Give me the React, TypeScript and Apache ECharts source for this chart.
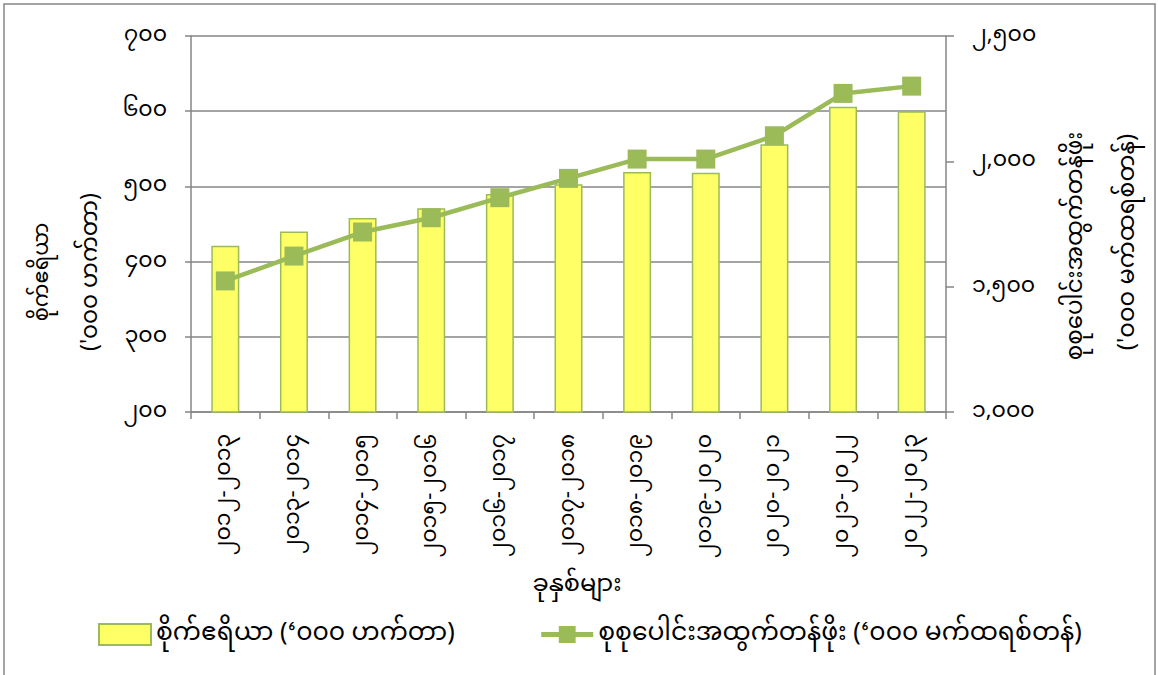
import React, { useEffect, useRef } from "react";
import * as echarts from "echarts";

const categories = [
  "၂၀၁၂-၂၀၁၃",
  "၂၀၁၃-၂၀၁၄",
  "၂၀၁၄-၂၀၁၅",
  "၂၀၁၅-၂၀၁၆",
  "၂၀၁၆-၂၀၁၇",
  "၂၀၁၇-၂၀၁၈",
  "၂၀၁၈-၂၀၁၉",
  "၂၀၁၉-၂၀၂၀",
  "၂၀၂၀-၂၀၂၁",
  "၂၀၂၁-၂၀၂၂",
  "၂၀၂၂-၂၀၂၃",
];
const areaValues = [421, 440, 458, 471, 490, 503, 519, 518, 556, 606, 600];
const productionValues = [1523, 1622, 1718, 1775, 1855, 1932, 2009, 2009, 2102, 2271, 2300];

const areaName = "စိုက်ဧရိယာ (‘၀၀၀ ဟက်တာ)";
const prodName = "စုစုပေါင်းအထွက်တန်ဖိုး (‘၀၀၀ မက်ထရစ်တန်)";
const leftTitle1 = "စိုက်ဧရိယာ";
const leftTitle2 = "('၀၀၀ ဟက်တာ)";
const rightTitle1 = "စုစုပေါင်းအထွက်တန်ဖိုး";
const rightTitle2 = "('၀၀၀ မက်ထရစ်တန်)";
const xTitle = "ခုနှစ်များ";

const myDigits = ["၀", "၁", "၂", "၃", "၄", "၅", "၆", "၇", "၈", "၉"];
const toMy = (n: number, comma: boolean) => {
  let s = String(Math.round(n));
  if (comma) s = s.replace(/\B(?=(\d{3})+(?!\d))/g, ",");
  return s.replace(/\d/g, (d) => myDigits[Number(d)]);
};

const FONT = "'Noto Sans Myanmar', 'Myanmar Text', Padauk, 'Noto Sans', sans-serif";
const GRAY = "#868686";
const GREEN = "#9BBB59";

export default function App() {
  const ref = useRef<HTMLDivElement>(null);
  useEffect(() => {
    if (!ref.current) return;
    const chart = echarts.init(ref.current, undefined, { renderer: "svg" });
    chart.setOption({
      animation: false,
      backgroundColor: "#ffffff",
      textStyle: { fontFamily: FONT },
      grid: { left: 191, top: 36, width: 755, height: 376, containLabel: false },
      legend: {
        left: 93,
        top: 617,
        itemWidth: 52,
        itemHeight: 21,
        itemGap: 84,
        textStyle: { fontFamily: FONT, fontSize: 25, color: "#000" },
        data: [
          { name: areaName, icon: "rect" },
          { name: prodName, lineStyle: { width: 5, color: GREEN } },
        ],
      },
      xAxis: {
        type: "category",
        data: categories,
        axisLine: { lineStyle: { color: GRAY, width: 1.5 } },
        axisTick: { show: true, length: 7, lineStyle: { color: GRAY, width: 1.5 } },
        axisLabel: { rotate: 90, margin: 22, fontSize: 22, color: "#000", fontFamily: FONT },
      },
      yAxis: [
        {
          type: "value",
          min: 200,
          max: 700,
          interval: 100,
          position: "left",
          axisLine: { show: true, lineStyle: { color: GRAY, width: 1.5 } },
          axisTick: { show: true, length: 6, lineStyle: { color: GRAY, width: 1.5 } },
          splitLine: { show: true, lineStyle: { color: GRAY, width: 1.5 } },
          axisLabel: {
            margin: 24,
            fontSize: 22,
            color: "#000",
            fontFamily: FONT,
            formatter: (v: number) => toMy(v, false),
          },
        },
        {
          type: "value",
          min: 1000,
          max: 2500,
          interval: 500,
          position: "right",
          axisLine: { show: true, lineStyle: { color: GRAY, width: 1.5 } },
          axisTick: { show: true, length: 8, lineStyle: { color: GRAY, width: 1.5 } },
          splitLine: { show: false },
          axisLabel: {
            margin: 26,
            fontSize: 22,
            color: "#000",
            fontFamily: FONT,
            formatter: (v: number) => toMy(v, true),
          },
        },
      ],
      series: [
        {
          name: areaName,
          type: "bar",
          yAxisIndex: 0,
          data: areaValues,
          barWidth: 28,
          itemStyle: { color: "#FFFF66", borderColor: GREEN, borderWidth: 1.5 },
        },
        {
          name: prodName,
          type: "line",
          yAxisIndex: 1,
          data: productionValues,
          symbol: "rect",
          symbolSize: 19,
          itemStyle: { color: GREEN },
          lineStyle: { color: GREEN, width: 4.5 },
        },
      ],
      graphic: [
        {
          type: "rect",
          shape: { x: 4, y: 4, width: 1151, height: 700 },
          style: { fill: "none", stroke: GRAY, lineWidth: 1.5 },
          silent: true,
        },
        {
          type: "text",
          x: 43,
          y: 272,
          rotation: Math.PI / 2,
          style: { text: leftTitle1, font: `21px ${FONT}`, fill: "#000", textAlign: "center", textVerticalAlign: "middle" },
        },
        {
          type: "text",
          x: 92,
          y: 272,
          rotation: Math.PI / 2,
          style: { text: leftTitle2, font: `23px ${FONT}`, fill: "#000", textAlign: "center", textVerticalAlign: "middle" },
        },
        {
          type: "text",
          x: 1077,
          y: 246,
          rotation: Math.PI / 2,
          style: { text: rightTitle1, font: `23px ${FONT}`, fill: "#000", textAlign: "center", textVerticalAlign: "middle" },
        },
        {
          type: "text",
          x: 1128,
          y: 242,
          rotation: Math.PI / 2,
          style: { text: rightTitle2, font: `24px ${FONT}`, fill: "#000", textAlign: "center", textVerticalAlign: "middle" },
        },
        {
          type: "text",
          x: 577,
          y: 585,
          style: { text: xTitle, font: `24px ${FONT}`, fill: "#000", textAlign: "center", textVerticalAlign: "middle" },
        },
      ],
    });
    return () => chart.dispose();
  }, []);
  return (
    <div
      ref={ref}
      style={{ position: "absolute", left: 0, top: 0, width: 1158, height: 675, background: "#fff" }}
    />
  );
}
